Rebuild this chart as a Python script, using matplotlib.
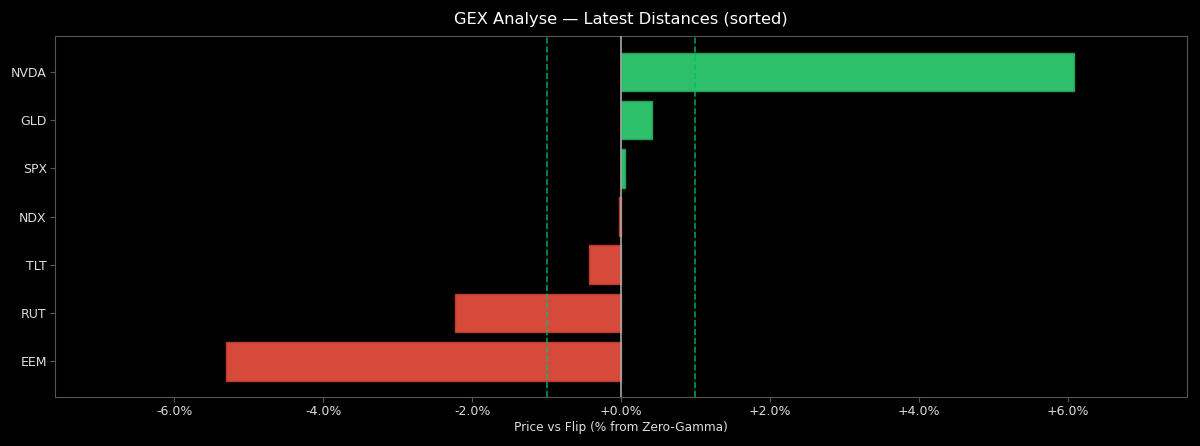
import matplotlib
matplotlib.use("Agg")
import matplotlib.pyplot as plt
from matplotlib.ticker import FuncFormatter

# Latest distances of price vs flip level, in percent (sorted)
tickers = ['EEM', 'RUT', 'TLT', 'NDX', 'SPX', 'GLD', 'NVDA']
distances = [-5.31, -2.23, -0.43, -0.03, 0.06, 0.42, 6.08]
band = 1.0

plt.rcParams['font.family'] = ['DejaVu Sans']
fig = plt.figure(figsize=(12, 4.46), dpi=100, facecolor='black')
ax = fig.add_axes([0.046, 0.110, 0.943, 0.809])
ax.set_facecolor('black')

colors = ['#2ebf6b' if d >= 0 else '#d64a3b' for d in distances]
edges = ['#23a058' if d >= 0 else '#b83c30' for d in distances]
ax.barh(tickers, distances, height=0.8, color=colors, edgecolor=edges,
        linewidth=1, zorder=2)

ax.axvline(0, color='#aaaaaa', linewidth=1.2, zorder=3)
for x in (-band, band):
    ax.axvline(x, color='#00c070', linestyle='--', linewidth=1.2, alpha=0.8, zorder=3)

ax.set_xlim(-7.6, 7.6)
ax.set_xticks([-6, -4, -2, 0, 2, 4, 6])
ax.xaxis.set_major_formatter(FuncFormatter(lambda v, p: f"{v:+.1f}%"))

for s in ax.spines.values():
    s.set_color('#555555')
ax.tick_params(colors='#555555', labelcolor='#dddddd', labelsize=9, pad=2.5)

ax.set_xlabel('Price vs Flip (% from Zero-Gamma)', color='#dddddd', fontsize=8.7, labelpad=2)
ax.set_title('GEX Analyse — Latest Distances (sorted)', color='white', fontsize=11.7, pad=9)

fig.savefig('out.png', facecolor='black')
